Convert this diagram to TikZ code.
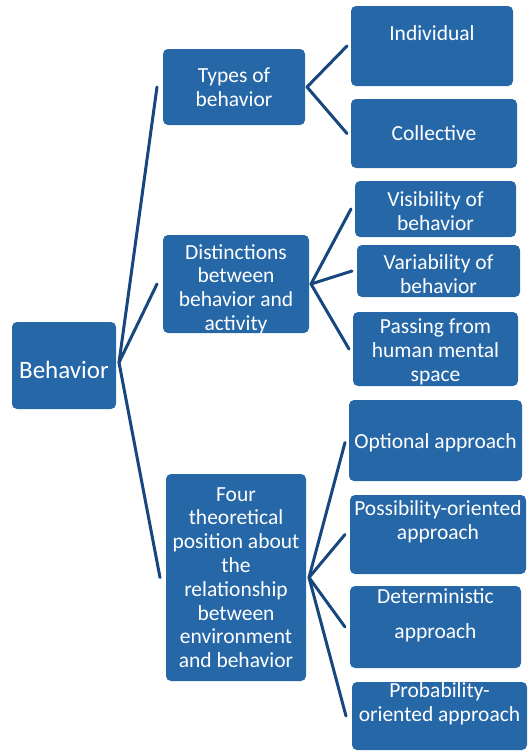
\documentclass[tikz,border=0pt]{standalone}
\usepackage{fontspec}
\setmainfont{Carlito}
\usepackage{tikz}
\usetikzlibrary{positioning}

\definecolor{boxblue}{RGB}{38,103,168}
\definecolor{linkblue}{RGB}{24,70,126}

\begin{document}
\begin{tikzpicture}[x=1pt, y=-1pt,
        box/.style={fill=boxblue, rounded corners=5pt, inner sep=0pt, outer sep=0pt},
        txt/.style={text=white, align=center, inner sep=0pt, font=\fontsize{21.5}{23.8}\selectfont},
        link/.style={draw=linkblue, line width=3pt, line cap=round}]
        \useasboundingbox (0,0) rectangle (529,753);

        % root
        \node[box, minimum width=104pt, minimum height=87pt,
              label={[txt, font=\fontsize{25}{28}\selectfont, yshift=-4pt]center:Behavior}] (beh) at (64,365.5) {};

        % first level
        \node[box, minimum width=142pt, minimum height=76pt,
              label={[txt]center:Types of\\behavior}] (types) at (234,87) {};
        \node[box, minimum width=146pt, minimum height=98pt,
              label={[txt, yshift=-5pt]center:Distinctions\\between\\behavior and\\activity}] (dist) at (236,284) {};
        \node[box, minimum width=140pt, minimum height=207pt,
              label={[txt]center:Four\\theoretical\\position about\\the\\relationship\\between\\environment\\and behavior}] (four) at (236,577.5) {};

        % second level
        \node[box, minimum width=162pt, minimum height=80pt,
              label={[txt, yshift=13pt]center:Individual}] (indiv) at (432,46) {};
        \node[box, minimum width=166pt, minimum height=69pt,
              label={[txt]center:Collective}] (coll) at (434,133.5) {};

        \node[box, minimum width=161pt, minimum height=56pt,
              label={[txt, yshift=-2pt]center:Visibility of\\behavior}] (visib) at (435.5,209) {};
        \node[box, minimum width=163pt, minimum height=52pt,
              label={[txt, yshift=-3pt]center:Variability of\\behavior}] (variab) at (438.5,271) {};
        \node[box, minimum width=165pt, minimum height=74pt,
              label={[txt, yshift=-3pt]center:Passing from\\human mental\\space}] (passing) at (435.5,349) {};

        \node[box, minimum width=173pt, minimum height=81pt,
              label={[txt, yshift=-2pt]center:Optional approach}] (optional) at (435.5,440.5) {};
        \node[box, minimum width=176pt, minimum height=79pt,
              label={[txt, yshift=13pt]center:Possibility-oriented\\approach}] (possib) at (438,534.5) {};
        \node[box, minimum width=171pt, minimum height=82pt,
              label={[txt, yshift=12pt]center:Deterministic\\[11pt]approach}] (determ) at (435.5,627) {};
        \node[box, minimum width=175pt, minimum height=68pt,
              label={[txt, yshift=12pt]center:Probability-\\oriented approach}] (probab) at (439.5,716) {};

        % links from the root
        \draw[link] ([xshift=3pt, yshift=3pt]beh.east) -- ([xshift=-6pt]types.west);
        \draw[link] ([xshift=3pt, yshift=3pt]beh.east) -- ([xshift=-6pt]dist.west);
        \draw[link] ([xshift=3pt, yshift=3pt]beh.east) -- ([xshift=-6pt]four.west);

        % links to the leaves
        \draw[link] ([xshift=2pt]types.east) -- ([xshift=-4pt]indiv.west);
        \draw[link] ([xshift=2pt]types.east) -- ([xshift=-4pt]coll.west);

        \draw[link] ([xshift=2pt]dist.east) -- ([xshift=-4pt]visib.west);
        \draw[link] ([xshift=2pt]dist.east) -- ([xshift=-5pt]variab.west);
        \draw[link] ([xshift=2pt]dist.east) -- ([xshift=-4pt]passing.west);

        \draw[link] ([xshift=3pt]four.east) -- ([xshift=-4pt, yshift=-2pt]optional.west);
        \draw[link] ([xshift=3pt]four.east) -- ([xshift=-5pt]possib.west);
        \draw[link] ([xshift=3pt]four.east) -- ([xshift=-5pt]determ.west);
        \draw[link] ([xshift=3pt]four.east) -- ([xshift=-6pt]probab.west);
    \end{tikzpicture}
\end{document}
